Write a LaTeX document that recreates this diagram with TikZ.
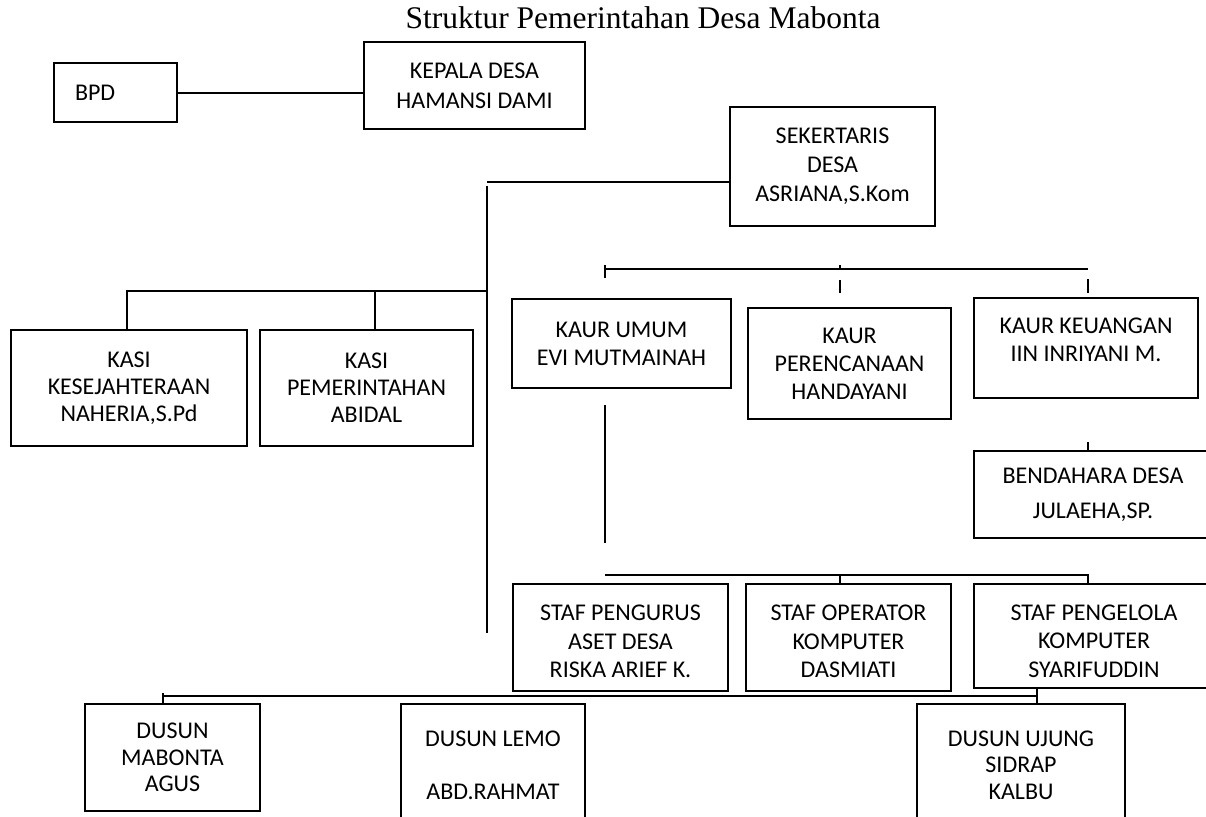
\documentclass[tikz,border=0pt]{standalone}
\usepackage{fontspec}
\setmainfont{Liberation Serif}
\newfontfamily\boxfont{Carlito}
\usetikzlibrary{positioning}
\tikzset{
  x=1pt, y=-1pt, % pixel-like units, y grows downwards
  unit/.style={draw, line width=1.8pt, rectangle, align=center, inner sep=0pt,
    font=\boxfont\fontsize{24}{28}\selectfont}, % every box of the chart
  unittext/.style={align=center, inner sep=0pt,
    font=\boxfont\fontsize{24}{28}\selectfont}, % text set apart from its box
  link/.style={line width=1.8pt}, % every connecting line
}

\begin{document}
\begin{tikzpicture}
    \clip (0,0) rectangle (1206,816);

    % title
    \node[anchor=base, font=\fontsize{31.5}{36}\selectfont] (title) at (643,29) {Struktur Pemerintahan Desa Mabonta};

    % head of the village
    \node[unit, minimum width=123, minimum height=59, text width=81, align=left, inner xsep=21] (bpd) at (115.5,92.5) {BPD};
    \node[unit, minimum width=221, minimum height=87] (kepala) at (474.5,85.5) {KEPALA DESA\\[2pt]HAMANSI DAMI};
    \node[unit, minimum width=205, minimum height=119] (sekdes) at (832.5,166.5) {SEKERTARIS\\[1pt]DESA\\[1pt]ASRIANA,S.Kom};

    % kasi
    \node[unit, minimum width=236, minimum height=116] (kasikesra) at (129,388) {KASI\\[-1pt]KESEJAHTERAAN\\[-1pt]NAHERIA,S.Pd};
    \node[unit, minimum width=213, minimum height=116] (kasipem) at (366.5,388) {KASI\\[-1pt]PEMERINTAHAN\\[-1pt]ABIDAL};

    % kaur
    \node[unit, minimum width=219, minimum height=89] (kaurumum) at (621.5,343.5) {KAUR UMUM\\EVI MUTMAINAH};
    \node[unit, minimum width=203, minimum height=111] (kaurrenc) at (849.5,363.5) {KAUR\\PERENCANAAN\\HANDAYANI};
    \node[unit, minimum width=224, minimum height=100] (kaurkeu) at (1086,348) {};
    \node[unittext] (kaurkeutext) at ([yshift=8pt]kaurkeu.center) {KAUR KEUANGAN\\IIN INRIYANI M.};
    \node[unit, minimum width=238, minimum height=87] (bendahara) at (1093,494.5) {BENDAHARA DESA\\[7pt]JULAEHA,SP.};

    % staf
    \node[unit, minimum width=215, minimum height=107] (stafaset) at (620.5,637.5) {};
    \node[unittext] (stafasettext) at ([yshift=-4pt]stafaset.center) {STAF PENGURUS\\[0.5pt]ASET DESA\\[0.5pt]RISKA ARIEF K.};
    \node[unit, minimum width=205, minimum height=107] (stafop) at (848.5,637.5) {};
    \node[unittext] (stafoptext) at ([yshift=-4pt]stafop.center) {STAF OPERATOR\\[0.5pt]KOMPUTER\\[0.5pt]DASMIATI};
    \node[unit, minimum width=240, minimum height=104] (stafkom) at (1094,636) {};
    \node[unittext] (stafkomtext) at ([yshift=-5pt]stafkom.center) {STAF PENGELOLA\\[0.5pt]KOMPUTER\\[0.5pt]SYARIFUDDIN};

    % dusun
    \node[unit, minimum width=175, minimum height=107] (dusunmab) at (172.5,757.5) {DUSUN\\[-1.5pt]MABONTA\\[-1.5pt]AGUS};
    \node[unit, minimum width=184, minimum height=122] (dusunlemo) at (493,765) {DUSUN LEMO\\[25pt]ABD.RAHMAT};
    \node[unit, minimum width=208, minimum height=122] (dusunujung) at (1021,765) {DUSUN UJUNG\\[-1.5pt]SIDRAP\\[-1.5pt]KALBU};

    % joints of the lines
    \coordinate (sekjoin) at (487,182);
    \coordinate (spinetop) at (487,186);
    \coordinate (spinebot) at (487,633);
    \coordinate (kasijoin) at (487,291);
    \coordinate (kaurL) at (605,269);
    \coordinate (kaurM) at (840,269);
    \coordinate (kaurR) at (1088,269);
    \coordinate (umumtop) at (605,405);
    \coordinate (umumbot) at (605,543);
    \coordinate (stafL) at (605,575);
    \coordinate (stafR) at (1088,575);
    \coordinate (dusL) at (163,696);
    \coordinate (dusR) at (1037,696);

    \draw[link] (bpd.east |- 0,93) -- (kepala.west |- 0,93);
    \draw[link] (sekdes.west |- sekjoin) -- (sekjoin);
    \draw[link] (spinetop) -- (spinebot);
    \draw[link] ([xshift=-2pt]kasikesra.north) |- (kasijoin);
    \draw[link] ([xshift=8.5pt]kasipem.north) -- ([xshift=8.5pt]kasipem.north |- kasijoin);

    \draw[link] (kaurL) -- (kaurR);
    \draw[link] ([yshift=4pt]kaurL) -- ([yshift=-9pt]kaurL);
    \draw[link] ([yshift=4pt]kaurM) -- (kaurM);
    \draw[link] ([yshift=-11pt]kaurM) -- ([yshift=-24pt]kaurM);
    \draw[link] ([yshift=-10pt]kaurR) -- ([yshift=-24pt]kaurR);
    \draw[link] (umumtop) -- (umumbot);
    \draw[link] (kaurR |- bendahara.north) -- ++(0,-8);

    \draw[link] (stafL) -- (stafR) -- (stafR |- stafkom.north);
    \draw[link] (kaurM |- stafL) -- (kaurM |- stafop.north);

    \draw[link] (dusL) -- (dusR);
    \draw[link] ([yshift=3pt]dusL) -- (dusL |- dusunmab.north);
    \draw[link] ([yshift=2pt]dusR |- stafkom.south) -- (dusR |- dusunujung.north);

\end{tikzpicture}
\end{document}
